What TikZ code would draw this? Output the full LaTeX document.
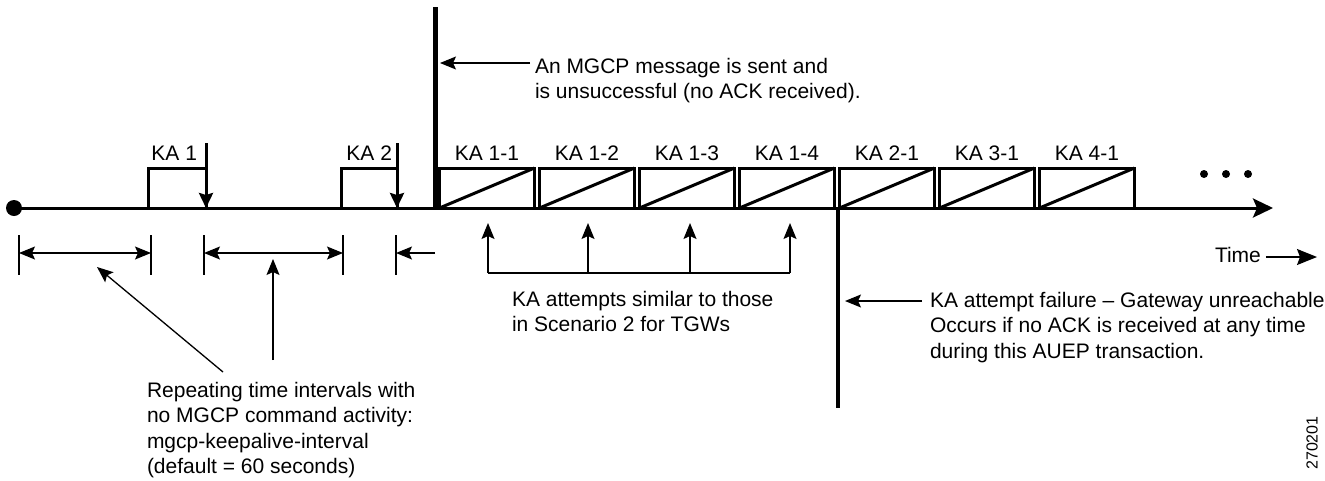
\documentclass[tikz,border=0pt]{standalone}
\usepackage{fontspec}
\setmainfont{Liberation Sans}
\usetikzlibrary{arrows.meta}
\begin{document}
\begin{tikzpicture}[x=1pt,y=-1pt,
  every node/.style={font=\fontsize{21}{25.5}\selectfont, inner sep=0pt, outer sep=0pt},
  txt/.style={align=left, anchor=base west},
  heavy/.style={line width=3pt},
  fine/.style={line width=1.3pt},
  tbox/.style={draw, line width=3pt, minimum width=95pt, minimum height=40pt, anchor=south},
  kabox/.style={draw, line width=3pt, anchor=south west, minimum height=40pt},
  finearrow/.style={fine, -{Stealth[length=16pt,width=13pt,inset=3pt]}},
  bothway/.style={fine, {Stealth[length=16pt,width=13pt,inset=3pt]}-{Stealth[length=16pt,width=13pt,inset=3pt]}},
  dotn/.style={circle, fill, minimum size=8pt}
]
\useasboundingbox (0,0) rectangle (1325,480);

% timeline
\node[circle, fill, minimum size=16pt] (origin) at (14,208) {};
\coordinate (tend) at (1273,208);
\draw[heavy, -{Stealth[length=20pt,width=19pt,inset=4pt]}] (origin.center) -- (tend);

% KA 1 and KA 2
\node[kabox, minimum width=58pt] (ka1box) at (148,208) {};
\node[anchor=base east] (ka1lab) at (197,160) {KA 1};
\coordinate (ka1top) at (206,143);
\draw[heavy, -{Stealth[length=15pt,width=14pt,inset=2pt]}] (ka1top) -- (ka1box.south east);

\node[kabox, minimum width=56pt] (ka2box) at (341,208) {};
\node[anchor=base east] (ka2lab) at (392,160) {KA 2};
\coordinate (ka2top) at (397,143);
\draw[heavy, -{Stealth[length=15pt,width=14pt,inset=2pt]}] (ka2top) -- (ka2box.south east);

% message line
\coordinate (msgtop) at (435,7);
\coordinate (msgbot) at (435,208);
\draw[line width=5pt] (msgtop) -- (msgbot);
% base anchor of a multi-line node is its last line's baseline
\node[txt] (mgcp) at (535,98.5) {An MGCP message is sent and\\is unsuccessful (no ACK received).};
\coordinate (msgpt) at (440,63);
\draw[finearrow] (mgcp.west |- msgpt) ++(-5,0) -- (msgpt);

% KA attempt boxes
\foreach \n/\t [count=\k from 0] in {a/KA 1-1, b/KA 1-2, c/KA 1-3, d/KA 1-4, e/KA 2-1, f/KA 3-1, g/KA 4-1} {
  \node[tbox] (box\n) at (487+100*\k,208) {};
  \draw[heavy] (box\n.south west) -- (box\n.north east);
  \node[anchor=base] (lab\n) at (487+100*\k,160) {\t};
}

% ellipsis
\node[dotn] (d1) at (1204,174) {};
\node[dotn] (d2) at (1226,174) {};
\node[dotn] (d3) at (1248,174) {};

% failure line
\coordinate (failtop) at (838,208);
\coordinate (failbot) at (838,408);
\draw[line width=4.5pt] (failtop) -- (failbot);
\node[txt] (fail) at (930,358) {KA attempt failure \textendash\ Gateway unreachable\\Occurs if no ACK is received at any time\\during this AUEP transaction.};
\coordinate (failpt) at (845,301);
\draw[finearrow] (fail.west |- failpt) ++(-8,0) -- (failpt);

% similar attempts
\foreach \x [count=\i] in {488,588,690,790} {
  \coordinate (u\i) at (\x,273);
  \coordinate (t\i) at (\x,223);
  \draw[finearrow] (u\i) -- (t\i);
}
\draw[fine] (u1) -- (u4);
\node[txt] (sim) at (512,331.5) {KA attempts similar to those\\in Scenario 2 for TGWs};

% interval markers
\foreach \x [count=\i] in {19,151,204,343,396} {
  \coordinate (tk\i) at (\x,253);
  \draw[fine] (\x,235) -- (\x,275);
}
\coordinate (tk6) at (435,253);
\draw[bothway] (tk1) -- (tk2);
\draw[bothway] (tk3) -- (tk4);
\draw[finearrow] (tk6) -- (tk5);

% repeating text
\node[txt] (rep) at (147,473.5) {Repeating time intervals with\\no MGCP command activity:\\mgcp-keepalive-interval\\(default = 60 seconds)};
\coordinate (repa) at (223,372);
\coordinate (repb) at (273,360);
\coordinate (diagtip) at (97,267);
\coordinate (verttip) at (273,259);
\draw[finearrow] (repa) -- (diagtip);
\draw[finearrow] (repb) -- (verttip);

% time label
\node[anchor=base west] (time) at (1215,262) {Time};
\coordinate (timetip) at (1317,257);
\draw[fine, -{Stealth[length=20pt,width=16pt,inset=3pt]}] (time.east |- timetip) ++(5,0) -- (timetip);

% figure number
\node[rotate=90, font=\fontsize{16}{16}\selectfont] (fig) at (1312,443) {270201};
\end{tikzpicture}
\end{document}
